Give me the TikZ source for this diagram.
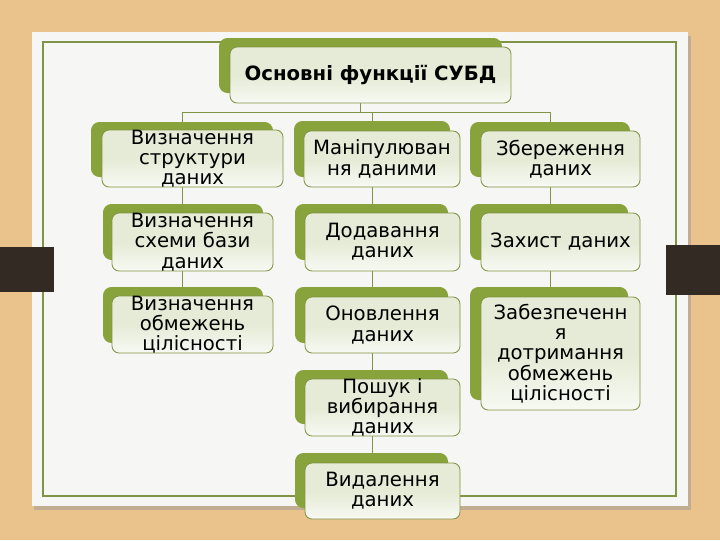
\documentclass[tikz,border=0pt]{standalone}
\usepackage{fontspec}
\setmainfont{DejaVu Sans}
\usetikzlibrary{fit, backgrounds}
\definecolor{derevo}{RGB}{234,194,140}
\definecolor{arkush}{RGB}{246,246,244}
\definecolor{oliva}{RGB}{137,163,60}
\definecolor{ramka}{RGB}{128,148,70}
\definecolor{krem}{RGB}{229,235,214}
\definecolor{korych}{RGB}{52,42,36}
\pgfdeclarelayer{dno}
\pgfsetlayers{dno,background,main}
\tikzset{
  tlo/.style={
    fill=oliva, rounded corners=6pt, inner sep=0pt
  },
  blok/.style={
    draw=ramka, line width=0.6pt, rounded corners=5pt, inner sep=0pt,
    top color=krem, bottom color=krem!30, middle color=krem
  },
  napys/.style={font=\fontsize{14}{14.4}\selectfont, align=center, text=black},
  linija/.style={draw=ramka, line width=0.7pt},
}

\begin{document}
\begin{tikzpicture}[x=0.025cm, y=-0.025cm]
\useasboundingbox (0,0) rectangle (720,540);

% aркуш на дошці
\begin{pgfonlayer}{dno}
\fill[derevo] (0,0) rectangle (720,540);
\fill[black!40, opacity=0.5] (34,36) rectangle (691,510);
\fill[arkush] (32,32) rectangle (688,506);
\draw[ramka, line width=0.8pt] (43,42) rectangle (676,496);
\fill[korych] (0,247) rectangle (54,292);
\fill[korych] (666,245) rectangle (720,295);
\end{pgfonlayer}

\node[tlo, fit={(219,38) (502,93)}] (sudbt) {};
\node[blok, fit={(230,47) (511,103)},
  label={[napys, font=\fontsize{14}{16}\selectfont\bfseries]center:Основні функції СУБД}] (sudb) {};

% визначення
\node[tlo, fit={(91,122) (273,177)}] (vyz1t) {};
\node[blok, fit={(102,130) (283,187)}, label={[napys]center:Визначення\\структури\\даних}] (vyz1) {};
\node[tlo, fit={(103,204) (263,260)}] (vyz2t) {};
\node[blok, fit={(112,213) (273,271)}, label={[napys]center:Визначення\\схеми бази\\даних}] (vyz2) {};
\node[tlo, fit={(103,287) (263,343)}] (vyz3t) {};
\node[blok, fit={(112,296) (273,353)}, label={[napys]center:Визначення\\обмежень\\цілісності}] (vyz3) {};

% маніпулювання
\node[tlo, fit={(294,121) (450,177)}] (man0t) {};
\node[blok, fit={(304,131) (460,187)}, label={[napys]center:Маніпулюван\\ня даними}] (man0) {};
\node[tlo, fit={(295,204) (448,260)}] (man1t) {};
\node[blok, fit={(305,213) (460,271)}, label={[napys]center:Додавання\\даних}] (man1) {};
\node[tlo, fit={(295,287) (448,343)}] (man2t) {};
\node[blok, fit={(305,297) (460,353)}, label={[napys]center:Оновлення\\даних}] (man2) {};
\node[tlo, fit={(295,370) (448,424)}] (man3t) {};
\node[blok, fit={(305,379) (460,436)}, label={[napys]center:Пошук і\\вибирання\\даних}] (man3) {};
\node[tlo, fit={(295,453) (448,508)}] (man4t) {};
\node[blok, fit={(305,463) (460,519)}, label={[napys]center:Видалення\\даних}] (man4) {};

% збереження
\node[tlo, fit={(470,122) (630,177)}] (zb0t) {};
\node[blok, fit={(481,131) (640,187)}, label={[napys]center:Збереження\\даних}] (zb0) {};
\node[tlo, fit={(470,204) (628,260)}] (zb1t) {};
\node[blok, fit={(481,213) (640,271)}, label={[napys]center:Захист даних}] (zb1) {};
\node[tlo, fit={(470,287) (628,400)}] (zb2t) {};
\node[blok, fit={(481,297) (640,410)}, label={[napys]center:Забезпеченн\\я\\дотримання\\обмежень\\цілісності}] (zb2) {};

\coordinate (shyna) at (0,112);
\begin{pgfonlayer}{background}
\draw[linija] (sudbt.center) -- (sudbt.center |- shyna);
\draw[linija] (vyz1t.center |- shyna) -- (zb0t.center |- shyna);
\draw[linija] (vyz1t.center |- shyna) -- (vyz1t.center |- vyz3t.center);
\draw[linija] (man0t.center |- shyna) -- (man0t.center |- man4t.center);
\draw[linija] (zb0t.center |- shyna) -- (zb0t.center |- zb2t.center);
\end{pgfonlayer}

\end{tikzpicture}
\end{document}
